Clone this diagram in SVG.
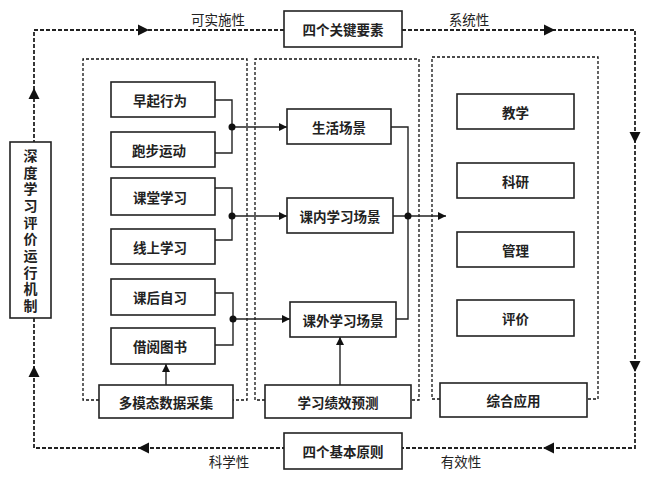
<svg xmlns="http://www.w3.org/2000/svg" width="650" height="482" viewBox="0 0 650 482">
<style>
.box{fill:#fff;stroke:#222;stroke-width:1.6}
.t{font-family:"Noto Sans CJK SC","Liberation Sans",sans-serif;font-size:13.5px;font-weight:bold;fill:#222;text-anchor:middle;dominant-baseline:central}
.lbl{font-family:"Noto Sans CJK SC","Liberation Sans",sans-serif;font-size:13.5px;fill:#222;text-anchor:middle;dominant-baseline:central}
.loop{fill:none;stroke:#222;stroke-width:1.8;stroke-dasharray:4 2}
.panel{fill:none;stroke:#111;stroke-width:1.3;stroke-dasharray:3 2}
.conn{fill:none;stroke:#222;stroke-width:1.4}
.ah{fill:#111}
</style>
<defs>
<marker id="arr" viewBox="0 0 10 10" refX="10" refY="5" markerWidth="8" markerHeight="8" markerUnits="userSpaceOnUse" orient="auto">
<path d="M0,0 L10,5 L0,10 Z" fill="#111"/>
</marker>
</defs>

<g id="loop">
<path class="loop" d="M284,30 H34 V142 M34,318 V448 H284 M402,30 H635 V448 H402"/>
<polygon class="ah" points="149,30 138,24.5 138,35.5"/>
<polygon class="ah" points="555,30 544,24.5 544,35.5"/>
<polygon class="ah" points="635,143 629.5,132 640.5,132"/>
<polygon class="ah" points="635,372 629.5,361 640.5,361"/>
<polygon class="ah" points="543,448 554,442.5 554,453.5"/>
<polygon class="ah" points="138,448 149,442.5 149,453.5"/>
<polygon class="ah" points="34,88 28.5,99 39.5,99"/>
<polygon class="ah" points="34,366 28.5,377 39.5,377"/>
<text class="lbl" x="218" y="19">可实施性</text>
<text class="lbl" x="469" y="19">系统性</text>
<text class="lbl" x="229" y="461">科学性</text>
<text class="lbl" x="461" y="461">有效性</text>
</g>

<g id="panels">
<path class="panel" d="M99,400 H83 V59 H247 V400 H233"/>
<path class="panel" d="M265,400 H255 V59 H419 V400 H411"/>
<path class="panel" d="M440,399 H432 V57 H598 V399 H587"/>
</g>

<g id="connectors">
<path class="conn" d="M215,100 H232 V153 H215"/>
<path class="conn" d="M232,127 H287" marker-end="url(#arr)"/>
<circle cx="232" cy="127" r="3.5" fill="#111"/>
<path class="conn" d="M215,188 H232 V240 H215"/>
<path class="conn" d="M232,216 H287" marker-end="url(#arr)"/>
<circle cx="232" cy="216" r="3.5" fill="#111"/>
<path class="conn" d="M215,293 H233 V345 H215"/>
<path class="conn" d="M233,319 H290" marker-end="url(#arr)"/>
<circle cx="233" cy="319" r="3.5" fill="#111"/>
<path class="conn" d="M166,385 V364" marker-end="url(#arr)"/>
<path class="conn" d="M340,385 V337" marker-end="url(#arr)"/>
<path class="conn" d="M391,127 H408 V319 H396"/>
<path class="conn" d="M393,216 H446" marker-end="url(#arr)"/>
<circle cx="408" cy="216" r="3.5" fill="#111"/>
</g>

<g id="n-key"><rect class="box" x="284" y="11" width="118" height="36"/><text class="t" x="343" y="29">四个关键要素</text></g>
<g id="n-principle"><rect class="box" x="284" y="433" width="118" height="36"/><text class="t" x="343" y="451">四个基本原则</text></g>
<g id="n-mech"><rect class="box" x="10" y="142" width="41" height="176"/>
<text class="t" x="30.5" y="232" style="font-size:14px;writing-mode:vertical-rl;letter-spacing:2.7px">深度学习评价运行机制</text></g>

<g id="n-zaoqi"><rect class="box" x="111" y="82" width="104" height="35"/><text class="t" x="160" y="99.5">早起行为</text></g>
<g id="n-paobu"><rect class="box" x="111" y="132" width="104" height="35"/><text class="t" x="159" y="149.5">跑步运动</text></g>
<g id="n-ketang"><rect class="box" x="111" y="178" width="104" height="37"/><text class="t" x="160" y="196.5">课堂学习</text></g>
<g id="n-xianshang"><rect class="box" x="111" y="229" width="104" height="35"/><text class="t" x="160" y="246.5">线上学习</text></g>
<g id="n-kehou"><rect class="box" x="111" y="279" width="104" height="36"/><text class="t" x="160" y="297">课后自习</text></g>
<g id="n-jieyue"><rect class="box" x="111" y="328" width="104" height="36"/><text class="t" x="160" y="346">借阅图书</text></g>
<g id="n-data"><rect class="box" x="99" y="385" width="134" height="33"/><text class="t" x="166" y="401.5">多模态数据采集</text></g>

<g id="n-life"><rect class="box" x="287" y="109" width="104" height="35"/><text class="t" x="339" y="126.5">生活场景</text></g>
<g id="n-inclass"><rect class="box" x="287" y="198" width="106" height="35"/><text class="t" x="340" y="215.5">课内学习场景</text></g>
<g id="n-outclass"><rect class="box" x="290" y="302" width="106" height="35"/><text class="t" x="343" y="319.5">课外学习场景</text></g>
<g id="n-predict"><rect class="box" x="265" y="385" width="146" height="33"/><text class="t" x="338" y="401.5">学习绩效预测</text></g>

<g id="n-teach"><rect class="box" x="457" y="94" width="117" height="35"/><text class="t" x="515.5" y="111.5">教学</text></g>
<g id="n-research"><rect class="box" x="457" y="163" width="117" height="35"/><text class="t" x="515.5" y="180.5">科研</text></g>
<g id="n-manage"><rect class="box" x="457" y="232" width="117" height="35"/><text class="t" x="515.5" y="249.5">管理</text></g>
<g id="n-eval"><rect class="box" x="457" y="300" width="117" height="36"/><text class="t" x="515.5" y="318">评价</text></g>
<g id="n-apply"><rect class="box" x="440" y="383" width="147" height="34"/><text class="t" x="513.5" y="400">综合应用</text></g>
</svg>
